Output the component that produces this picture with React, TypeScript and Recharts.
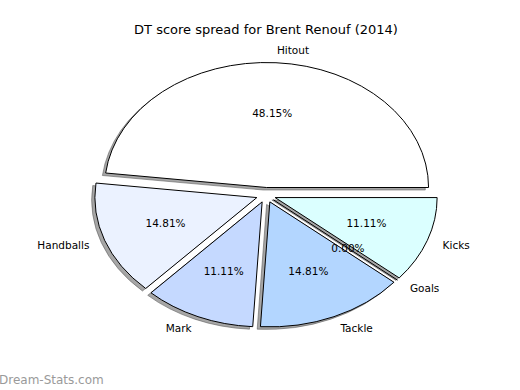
import { Pie, PieChart } from "recharts";

const NAMES = ["Hitout", "Handballs", "Mark", "Tackle", "Goals", "Kicks"];
const SCORES = [13, 4, 3, 4, 0, 3];
const COLORS = ["#ffffff", "#ebf2ff", "#c5d9ff", "#b3d6ff", "#ffffff", "#dbffff"];

const DATA = NAMES.map((name, i) => ({ name, value: SCORES[i], fill: COLORS[i] }));

const CX = 266;
const CY = 195;
const RX = 162;
const RY = 125;
const ASPECT = RY / RX;
const EXPLODE = 0.06;
const FONT = "DejaVu Sans, sans-serif";
const RAD = Math.PI / 180;

// matplotlib-style stretched pie: sectors are ellipses, pushed out along mid angle
function offset(cx: number, cy: number, r: number, mid: number, k: number) {
  return [cx + k * r * Math.cos(mid * RAD), cy - k * r * ASPECT * Math.sin(mid * RAD)];
}

function wedgePath(cx: number, cy: number, r: number, a0: number, a1: number) {
  const ry = r * ASPECT;
  const p = (a: number) => [cx + r * Math.cos(a * RAD), cy - ry * Math.sin(a * RAD)];
  const [x0, y0] = p(a0);
  if (a1 - a0 <= 0.001) return `M${cx},${cy}L${x0},${y0}`;
  const [x1, y1] = p(a1);
  const large = a1 - a0 > 180 ? 1 : 0;
  return `M${cx},${cy}L${x0},${y0}A${r},${ry} 0 ${large} 0 ${x1},${y1}Z`;
}

function Wedge(props: any) {
  const { cx, cy, outerRadius, startAngle, endAngle, fill } = props;
  const mid = (startAngle + endAngle) / 2;
  const [ox, oy] = offset(cx, cy, outerRadius, mid, EXPLODE);
  return (
    <path d={wedgePath(ox, oy, outerRadius, startAngle, endAngle)} fill={fill} stroke="#000" strokeWidth={1} strokeLinejoin="round" />
  );
}

function ShadowWedge(props: any) {
  const { cx, cy, outerRadius, startAngle, endAngle } = props;
  const mid = (startAngle + endAngle) / 2;
  const [ox, oy] = offset(cx, cy, outerRadius, mid, EXPLODE);
  const sx = ox - 0.02 * outerRadius;
  const sy = oy + 0.02 * outerRadius * ASPECT;
  return (
    <path d={wedgePath(sx, sy, outerRadius, startAngle, endAngle)} fill="#4d4d4d" fillOpacity={0.5} stroke="#4d4d4d" strokeOpacity={0.5} strokeWidth={1} />
  );
}

function renderLabel(props: any) {
  const { cx, cy, outerRadius, midAngle, percent, name } = props;
  const [ox, oy] = offset(cx, cy, outerRadius, midAngle, EXPLODE);
  const [lx, ly] = offset(ox, oy, outerRadius, midAngle, 1.1);
  const [px, py] = offset(ox, oy, outerRadius, midAngle, 0.6);
  const anchor = Math.cos(midAngle * RAD) >= 0 ? "start" : "end";
  return (
    <g>
      <text x={lx} y={ly} textAnchor={anchor} dominantBaseline="central" fontSize={10.5} fontFamily={FONT} fill="#000">
        {name}
      </text>
      <text x={px} y={py} textAnchor="middle" dominantBaseline="central" fontSize={10.5} fontFamily={FONT} fill="#000">
        {(percent * 100).toFixed(2)}%
      </text>
    </g>
  );
}

export default function App() {
  return (
    <div style={{ position: "absolute", left: 0, top: 0, width: 520, height: 390, background: "#fff" }}>
      <PieChart width={520} height={390} margin={{ top: 0, right: 0, bottom: 0, left: 0 }}>
        <text x={266} y={29} textAnchor="middle" dominantBaseline="central" fontSize={13} fontFamily={FONT} fill="#000">
          DT score spread for Brent Renouf (2014)
        </text>
        <Pie
          data={DATA}
          dataKey="value"
          nameKey="name"
          cx={CX}
          cy={CY}
          outerRadius={RX}
          startAngle={0}
          endAngle={360}
          shape={ShadowWedge}
          label={false}
          labelLine={false}
          isAnimationActive={false}
        />
        <Pie
          data={DATA}
          dataKey="value"
          nameKey="name"
          cx={CX}
          cy={CY}
          outerRadius={RX}
          startAngle={0}
          endAngle={360}
          shape={Wedge}
          label={renderLabel}
          labelLine={false}
          isAnimationActive={false}
        />
        <text x={-1} y={380} dominantBaseline="central" fontSize={12} fontFamily={FONT} fill="#9a9a9a">
          Dream-Stats.com
        </text>
      </PieChart>
    </div>
  );
}
